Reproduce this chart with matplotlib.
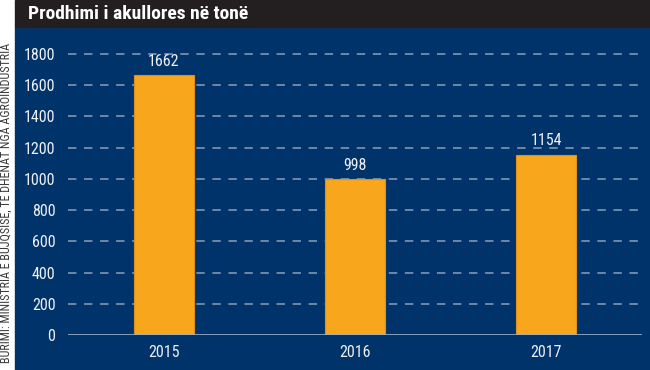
import matplotlib.pyplot as plt
from matplotlib import font_manager as fm

# data
years = ['2015', '2016', '2017']
values = [1662, 998, 1154]
yticks = [0, 200, 400, 600, 800, 1000, 1200, 1400, 1600, 1800]

title = 'Prodhimi i akullores në tonë'
source = 'BURIMI: MINISTRIA E BUJQSISË, TË DHËNAT NGA AGROINDUSTRIA'

NAVY = '#00336a'
ORANGE = '#f8a61c'
DARK = '#231f20'
TXT = '#eef0f4'

names = sorted({f.name for f in fm.fontManager.ttflist})
pref = ['Liberation Sans Narrow', 'Roboto Condensed', 'Open Sans Condensed',
        'DejaVu Sans Condensed', 'Liberation Sans']
fam = [n for n in pref if n in names][:1] + ['DejaVu Sans']
plt.rcParams['font.family'] = fam

fig = plt.figure(figsize=(6.5, 3.7), dpi=100)
fig.patch.set_facecolor('white')

# navy panel and title bar
fig.add_artist(plt.Rectangle((15 / 650, 0), 1, 343 / 370, transform=fig.transFigure,
                             color=NAVY, zorder=0))
fig.add_artist(plt.Rectangle((15 / 650, 343 / 370), 1, 27 / 370, transform=fig.transFigure,
                             color=DARK, zorder=0))
fig.text(28 / 650, 356 / 370, title, color='white', fontsize=14, fontweight='bold',
         va='center', ha='left')
fig.text(7.5 / 650, 167 / 370, source, color='#3a3a3a', fontsize=8.7, rotation=90,
         va='center', ha='center')

ax = fig.add_axes([68 / 650, 35 / 370, 574 / 650, 289 / 370])
ax.set_facecolor('none')
x = list(range(len(years)))
bars = ax.bar(x, values, width=0.314, color=ORANGE, edgecolor='#e0901a', linewidth=0.8,
              zorder=3)
for xi, v in zip(x, values):
    ax.text(xi, v + 40, str(v), ha='center', va='bottom', color=TXT, fontsize=11.5)

ax.set_xlim(-0.5, 2.5)
ax.set_ylim(0, 1850)
ax.set_yticks(yticks)
ax.set_xticks(x)
ax.set_xticklabels(years)
ax.tick_params(axis='both', length=0, colors=TXT, labelsize=11.5)
ax.tick_params(axis='y', pad=9)
ax.tick_params(axis='x', pad=7)
for s in ax.spines.values():
    s.set_visible(False)
for yv in yticks[1:]:
    ax.axhline(yv, color='#8c9fb8', lw=1.1, dashes=(5.5, 5), zorder=1)
ax.axhline(0, color='#9fb0c8', lw=1.2, zorder=4)

fig.savefig('out.png', dpi=100, facecolor=fig.get_facecolor())
